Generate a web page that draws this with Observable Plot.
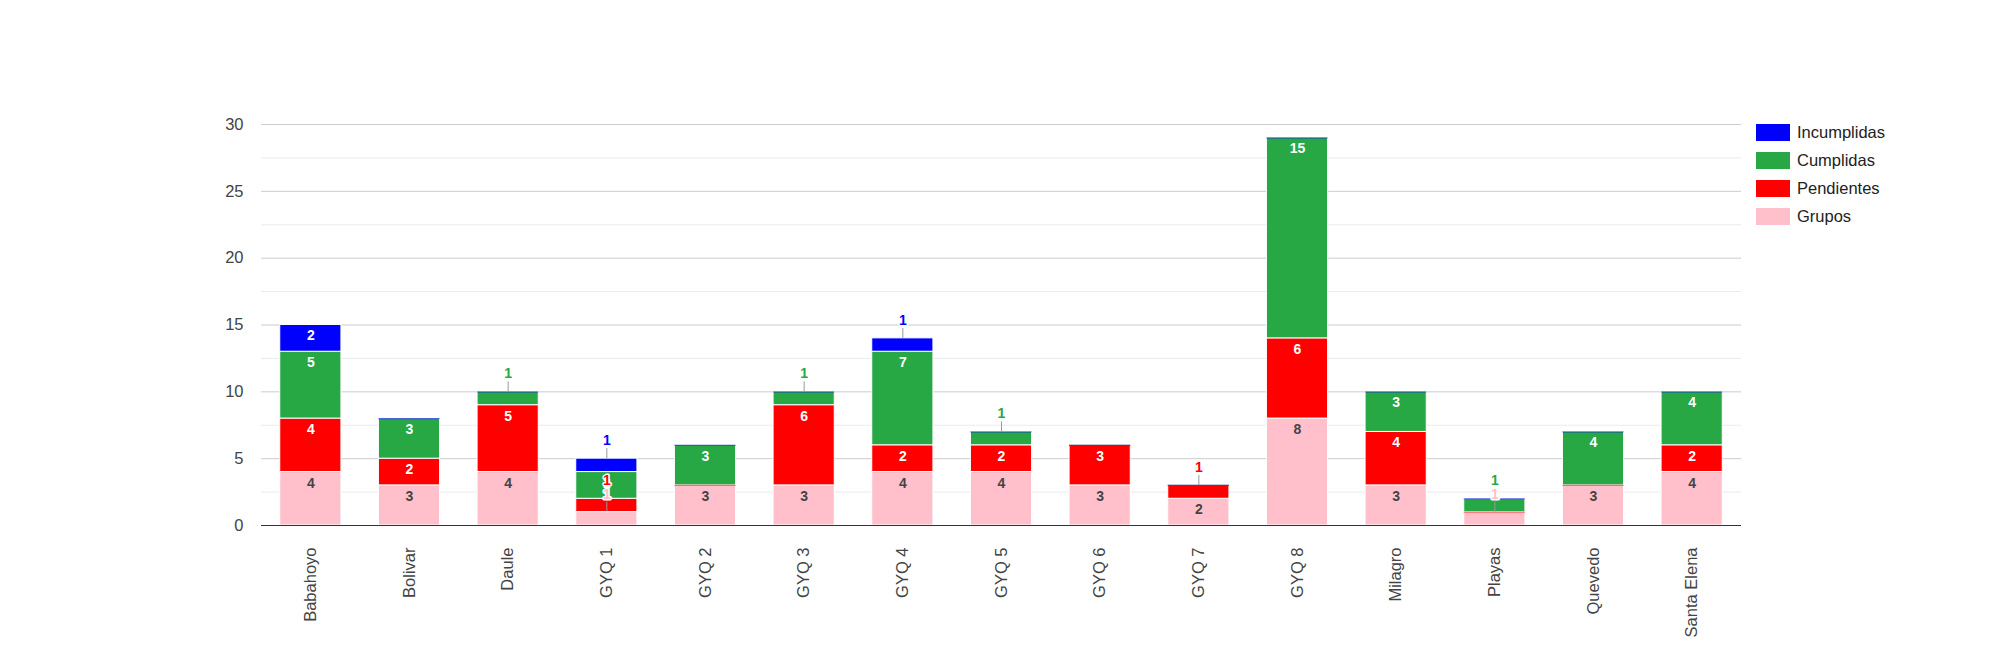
<!DOCTYPE html>
<html>
<head>
<meta charset="utf-8">
<script src="https://cdn.jsdelivr.net/npm/d3@7"></script>
<script src="https://cdn.jsdelivr.net/npm/@observablehq/plot@0.6"></script>
<style>
  html, body { margin: 0; padding: 0; background: #fff; }
  #wrap { position: relative; width: 2000px; height: 650px; font-family: "Liberation Sans", Arial, sans-serif; }
  #legend { position: absolute; left: 1756px; top: 118px; }
  .row { display: flex; align-items: center; height: 28px; }
  .sw { width: 34px; height: 17px; margin-right: 7px; }
  .lt { font-size: 16.5px; color: #222; line-height: 17px; }
</style>
</head>
<body>
<div id="wrap"><div id="legend"></div></div>
<script>
const categories = ["Babahoyo","Bolivar","Daule","GYQ 1","GYQ 2","GYQ 3","GYQ 4","GYQ 5","GYQ 6","GYQ 7","GYQ 8","Milagro","Playas","Quevedo","Santa Elena"];
const seriesNames = ["Grupos","Pendientes","Cumplidas","Incumplidas"];
const seriesColors = ["#ffc0cb","#ff0000","#28a745","#0000ff"];
const grupos      = [4,3,4,1,3,3,4,4,3,2,8,3,1,3,4];
const pendientes  = [4,2,5,1,0,6,2,2,3,1,6,4,0,0,2];
const cumplidas   = [5,3,1,2,3,1,7,1,0,0,15,3,1,4,4];
const incumplidas = [2,0,0,1,0,0,1,0,0,0,0,0,0,0,0];
const yTicks = [0,5,10,15,20,25,30];
const yMinor = [2.5,7.5,12.5,17.5,22.5,27.5];

const values = [grupos, pendientes, cumplidas, incumplidas];
const rows = [];
categories.forEach((cat, i) => {
  let cum = 0;
  seriesNames.forEach((s, j) => {
    const v = values[j][i];
    rows.push({cat, series: s, v, y1: cum, y2: cum + v});
    cum += v;
  });
});
const bars = rows.filter(d => d.v > 0);
const zeros = rows.filter(d => d.v === 0);
const inside = rows.filter(d => d.v >= 2);
const outside = rows.filter(d => d.v === 1);

const chart = Plot.plot({
  width: 2000,
  height: 650,
  marginLeft: 261,
  marginRight: 259,
  marginTop: 124,
  marginBottom: 125,
  style: {fontFamily: "'Liberation Sans', Arial, sans-serif", fontSize: "16.5px", color: "#444", background: "#fff"},
  x: {domain: categories, paddingInner: 0.38, paddingOuter: 0.19, round: false, label: null, tickRotate: -90, tickSize: 0, tickPadding: 22},
  y: {domain: [0, 30], ticks: yTicks, label: null, tickSize: 0, tickPadding: 18},
  color: {domain: seriesNames, range: seriesColors},
  marks: [
    Plot.ruleY(yMinor, {stroke: "#ebebeb"}),
    Plot.ruleY(yTicks.slice(1), {stroke: "#cccccc"}),
    Plot.barY(bars, {x: "cat", y1: "y1", y2: "y2", fill: "series", stroke: "white", strokeWidth: 1}),
    Plot.tickY(zeros, {x: "cat", y: "y2", stroke: "series", strokeOpacity: 0.55, strokeWidth: 1.2}),
    Plot.ruleY([0], {stroke: "#333"}),
    Plot.text(inside, {x: "cat", y: "y2", text: d => String(d.v), dy: 11, fill: d => d.series === "Grupos" ? "#444" : "#fff", fontWeight: "bold", fontSize: 14}),
    Plot.ruleX(outside, {x: "cat", y1: "y2", y2: "y2", insetTop: -10, stroke: "#999", strokeWidth: 1}),
    Plot.text(outside, {x: "cat", y: "y2", text: d => String(d.v), dy: -18, fill: "series", stroke: "white", strokeWidth: 3, paintOrder: "stroke", fontWeight: "bold", fontSize: 14})
  ]
});
document.getElementById("wrap").prepend(chart);

const legend = document.getElementById("legend");
for (let j = seriesNames.length - 1; j >= 0; j--) {
  const r = document.createElement("div");
  r.className = "row";
  r.innerHTML = `<div class="sw" style="background:${seriesColors[j]}"></div><div class="lt">${seriesNames[j]}</div>`;
  legend.appendChild(r);
}
</script>
</body>
</html>
